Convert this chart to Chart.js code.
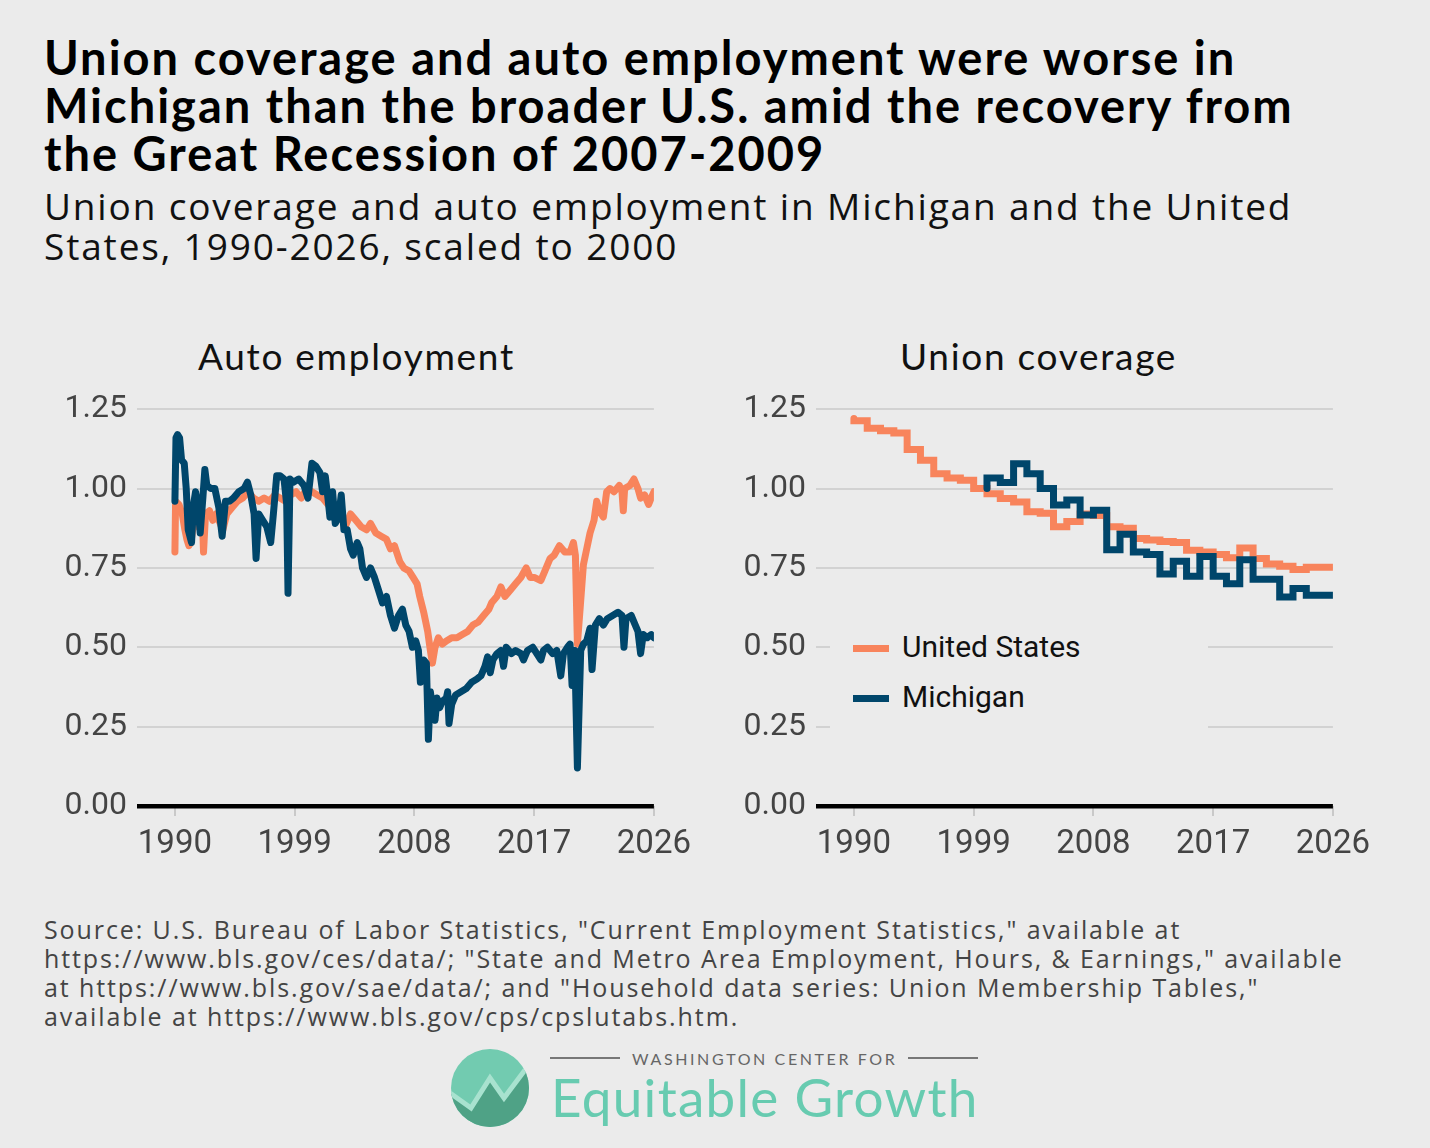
<!DOCTYPE html>
<html>
<head>
<meta charset="utf-8">
<script src="https://cdn.jsdelivr.net/npm/chart.js@4.4.1/dist/chart.umd.min.js"></script>
<style>
  html, body { margin: 0; padding: 0; }
  body { width: 1430px; height: 1148px; background: #ebebeb; position: relative; overflow: hidden; font-family: Roboto, sans-serif; }
  .abs { position: absolute; white-space: nowrap; }
  #title { left: 44px; top: 33px; font-family: Lato, sans-serif; font-weight: 700; font-size: 47px; letter-spacing: 2.0px; line-height: 48px; color: #000; }
  #subtitle { left: 44px; top: 186px; font-family: "Open Sans", sans-serif; font-size: 37px; letter-spacing: 1.85px; line-height: 40px; color: #111; }
  .panelTitle { top: 333px; font-family: Lato, sans-serif; font-size: 37px; letter-spacing: 1.7px; color: #111; }
  canvas { position: absolute; }
  #legend { left: 830px; top: 615px; width: 378px; height: 115px; background: #ebebeb; }
  .legItem { position: absolute; left: 23px; height: 30px; font-family: Roboto, sans-serif; font-size: 30px; color: #111; }
  .legItem span.sw { position: absolute; left: 0; top: 12px; width: 36px; height: 7px; }
  .legItem span.lb { position: absolute; left: 49px; top: -4px; white-space: nowrap; }
  #source { left: 44px; top: 915px; font-family: "Open Sans", sans-serif; font-size: 25px; letter-spacing: 1.9px; line-height: 29px; color: #444; }
</style>
</head>
<body>
<div id="title" class="abs">Union coverage and auto employment were worse in<br>Michigan than the broader U.S. amid the recovery from<br>the Great Recession of 2007-2009</div>
<div id="subtitle" class="abs">Union coverage and auto employment in Michigan and the United<br>States, 1990-2026, scaled to 2000</div>

<div class="abs panelTitle" style="left:198px">Auto employment</div>
<div class="abs panelTitle" style="left:900px">Union coverage</div>

<canvas id="autoChart" width="660" height="486" style="left:40px;top:380px"></canvas>
<canvas id="unionChart" width="660" height="486" style="left:719px;top:380px"></canvas>

<div id="legend" class="abs">
  <div class="legItem" style="top:18px"><span class="sw" style="background:#f8845c"></span><span class="lb">United States</span></div>
  <div class="legItem" style="top:68px"><span class="sw" style="background:#00466b"></span><span class="lb">Michigan</span></div>
</div>

<div id="source" class="abs">Source: U.S. Bureau of Labor Statistics, "Current Employment Statistics," available at<br>https://www.bls.gov/ces/data/; "State and Metro Area Employment, Hours, &amp; Earnings," available<br>at https://www.bls.gov/sae/data/; and "Household data series: Union Membership Tables,"<br>available at https://www.bls.gov/cps/cpslutabs.htm.</div>

<svg class="abs" style="left:440px;top:1040px" width="560" height="100" viewBox="440 1040 560 100">
  <defs><clipPath id="logoClip"><circle cx="490" cy="1088" r="39"/></clipPath></defs>
  <g clip-path="url(#logoClip)">
    <rect x="440" y="1040" width="100" height="100" fill="#72cbb0"/>
    <polygon points="450,1093 471,1108 490,1078 504,1098 530,1066 530,1130 450,1130" fill="#4fa286"/>
    <polyline points="450,1093 471,1108 490,1078 504,1098 528,1066" fill="none" stroke="#a8e2cf" stroke-width="5"/>
  </g>
  <line x1="550" y1="1058" x2="620" y2="1058" stroke="#777" stroke-width="2"/>
  <line x1="908" y1="1058" x2="978" y2="1058" stroke="#777" stroke-width="2"/>
  <text x="632" y="1065" font-family="Lato, sans-serif" font-size="16" letter-spacing="2.6" fill="#666">WASHINGTON CENTER FOR</text>
  <text x="551" y="1117" font-family="Lato, sans-serif" font-size="53" letter-spacing="1.3" fill="#67cbb0">Equitable Growth</text>
</svg>

<script>
// Auto employment, scaled to 2000
const autoUsYears = [1990.00,1990.05,1990.30,1990.55,1990.75,1990.90,1991.05,1991.20,1991.40,1991.60,1991.85,1992.05,1992.15,1992.30,1992.60,1992.85,1993.10,1993.40,1993.60,1993.90,1994.30,1994.70,1995.10,1995.50,1995.90,1996.30,1996.70,1997.10,1997.50,1997.90,1998.30,1998.70,1999.10,1999.50,1999.90,2000.30,2000.70,2001.10,2001.50,2001.90,2002.30,2002.80,2003.20,2003.60,2004.00,2004.40,2004.70,2005.10,2005.50,2005.90,2006.20,2006.50,2006.90,2007.20,2007.60,2007.90,2008.20,2008.40,2008.70,2009.00,2009.20,2009.35,2009.55,2009.80,2010.10,2010.40,2010.80,2011.20,2011.60,2012.00,2012.40,2012.80,2013.20,2013.60,2013.80,2014.20,2014.50,2014.80,2015.20,2015.60,2016.00,2016.40,2016.70,2017.00,2017.50,2017.80,2018.20,2018.50,2018.90,2019.30,2019.70,2019.95,2020.10,2020.25,2020.45,2020.70,2020.95,2021.20,2021.50,2021.70,2021.90,2022.20,2022.45,2022.70,2023.00,2023.40,2023.60,2023.70,2023.80,2024.20,2024.50,2024.80,2025.00,2025.30,2025.60,2025.90,2026.00];
const autoUsValues = [0.80,0.96,0.95,0.92,0.87,0.84,0.82,0.83,0.89,0.88,0.91,0.92,0.80,0.92,0.93,0.90,0.92,0.89,0.87,0.92,0.94,0.96,0.97,0.99,0.97,0.96,0.97,0.96,0.98,0.97,0.96,0.98,0.99,0.97,1.00,0.99,0.98,0.97,0.95,0.94,0.93,0.88,0.92,0.90,0.88,0.87,0.89,0.86,0.85,0.84,0.81,0.82,0.77,0.75,0.74,0.72,0.70,0.66,0.61,0.55,0.49,0.45,0.50,0.53,0.51,0.52,0.53,0.53,0.54,0.55,0.57,0.58,0.60,0.62,0.64,0.66,0.69,0.66,0.68,0.70,0.72,0.75,0.72,0.72,0.71,0.74,0.78,0.79,0.82,0.80,0.80,0.83,0.79,0.51,0.62,0.76,0.81,0.86,0.90,0.96,0.93,0.91,0.99,1.00,0.99,1.01,0.99,0.93,1.00,1.01,1.03,1.00,0.97,0.98,0.95,0.98,0.99];

const autoMiYears = [1990.00,1990.08,1990.20,1990.35,1990.50,1990.70,1990.85,1991.00,1991.25,1991.40,1991.55,1991.75,1991.90,1992.10,1992.25,1992.40,1992.70,1993.00,1993.30,1993.55,1993.80,1994.10,1994.40,1994.80,1995.20,1995.45,1995.70,1995.95,1996.10,1996.30,1996.60,1996.90,1997.20,1997.40,1997.65,1997.90,1998.20,1998.40,1998.50,1998.65,1998.90,1999.30,1999.70,2000.00,2000.30,2000.60,2000.90,2001.10,2001.30,2001.50,2001.65,2001.85,2002.05,2002.30,2002.50,2002.70,2002.95,2003.20,2003.40,2003.70,2003.90,2004.10,2004.40,2004.70,2005.00,2005.30,2005.60,2005.90,2006.20,2006.50,2006.80,2007.10,2007.35,2007.60,2007.85,2008.10,2008.30,2008.45,2008.70,2008.90,2009.05,2009.20,2009.40,2009.55,2009.70,2009.90,2010.10,2010.40,2010.50,2010.60,2010.80,2011.10,2011.50,2011.90,2012.30,2012.70,2013.00,2013.30,2013.50,2013.70,2013.90,2014.20,2014.50,2014.70,2014.90,2015.30,2015.60,2016.00,2016.20,2016.50,2016.90,2017.20,2017.50,2017.70,2018.00,2018.40,2018.70,2019.00,2019.20,2019.50,2019.70,2019.85,2020.05,2020.25,2020.50,2020.70,2020.95,2021.20,2021.35,2021.60,2021.90,2022.20,2022.50,2022.90,2023.30,2023.60,2023.75,2023.90,2024.30,2024.60,2024.80,2025.00,2025.20,2025.50,2025.80,2026.00];
const autoMiValues = [0.96,1.16,1.17,1.16,1.09,1.08,1.00,0.87,0.83,0.95,0.99,0.94,0.86,0.97,1.06,1.01,1.00,1.00,0.94,0.85,0.96,0.96,0.97,0.99,1.00,1.02,0.98,0.92,0.78,0.92,0.90,0.88,0.83,0.92,1.04,1.04,1.03,0.95,0.67,1.03,1.02,1.03,1.01,0.97,1.08,1.07,1.05,0.99,1.04,0.97,0.91,0.99,0.89,0.91,0.98,0.87,0.87,0.81,0.79,0.83,0.81,0.75,0.72,0.75,0.72,0.68,0.64,0.66,0.60,0.56,0.60,0.62,0.57,0.55,0.50,0.52,0.49,0.39,0.46,0.45,0.21,0.36,0.30,0.27,0.34,0.31,0.33,0.34,0.36,0.26,0.32,0.35,0.36,0.37,0.39,0.40,0.41,0.44,0.47,0.42,0.46,0.48,0.49,0.44,0.50,0.48,0.49,0.48,0.46,0.49,0.50,0.48,0.46,0.49,0.50,0.48,0.49,0.41,0.48,0.50,0.51,0.38,0.49,0.12,0.49,0.51,0.52,0.56,0.43,0.57,0.59,0.57,0.59,0.60,0.61,0.60,0.50,0.59,0.60,0.57,0.55,0.48,0.54,0.53,0.54,0.53];

// Union coverage, scaled to 2000, annual
const unionYears = [1990,1991,1992,1993,1994,1995,1996,1997,1998,1999,2000,2001,2002,2003,2004,2005,2006,2007,2008,2009,2010,2011,2012,2013,2014,2015,2016,2017,2018,2019,2020,2021,2022,2023,2024,2025,2026];
const unionUs = [1.221,1.214,1.190,1.182,1.175,1.123,1.089,1.047,1.033,1.026,1.000,0.984,0.969,0.958,0.927,0.922,0.880,0.896,0.920,0.915,0.880,0.875,0.843,0.838,0.833,0.830,0.806,0.800,0.792,0.782,0.813,0.780,0.762,0.755,0.745,0.752,0.752];
const unionMi = [null,null,null,null,null,null,null,null,null,null,1.000,1.033,1.019,1.078,1.047,1.000,0.948,0.964,0.917,0.932,0.807,0.856,0.800,0.792,0.731,0.771,0.724,0.786,0.724,0.700,0.776,0.714,0.714,0.658,0.685,0.664,0.664];

const xTicks = [1990, 1999, 2008, 2017, 2026];
const yTicks = [0, 0.25, 0.5, 0.75, 1.0, 1.25];

const usColor = '#f8845c';
const miColor = '#00466b';

function pts(xs, ys) {
  return xs.map((x, i) => ({x: x, y: ys[i]}));
}

function makeOptions() {
  return {
    responsive: false,
    animation: false,
    devicePixelRatio: 1,
    layout: {padding: {top: 27, right: 45, left: 0, bottom: 0}},
    plugins: {legend: {display: false}, tooltip: {enabled: false}, title: {display: false}},
    elements: {point: {radius: 0}, line: {borderWidth: 7, tension: 0, borderJoinStyle: 'round', borderCapStyle: 'round'}},
    scales: {
      x: {
        type: 'linear',
        min: 1987.15,
        max: 2026,
        afterBuildTicks: s => { s.ticks = xTicks.map(v => ({value: v})); },
        afterFit: s => { s.height = 60; },
        border: {display: false},
        grid: {drawOnChartArea: false, drawTicks: true, tickLength: 10, color: '#c9c9c9', lineWidth: 2},
        ticks: {padding: 9, color: '#444', font: {family: 'Roboto', size: 33}, maxRotation: 0, callback: v => String(v)}
      },
      y: {
        min: 0,
        max: 1.25,
        afterBuildTicks: s => { s.ticks = yTicks.map(v => ({value: v})); },
        afterFit: s => { s.width = 97; },
        border: {display: false},
        grid: {
          drawTicks: false,
          color: c => c.tick && c.tick.value === 0 ? '#000' : '#d2d2d2',
          lineWidth: c => c.tick && c.tick.value === 0 ? 4.5 : 2
        },
        ticks: {padding: 10, color: '#444', font: {family: 'Roboto', size: 32}, callback: v => Number(v).toFixed(2)}
      }
    }
  };
}

new Chart(document.getElementById('autoChart'), {
  type: 'line',
  data: {
    datasets: [
      {label: 'Michigan', data: pts(autoMiYears, autoMiValues), borderColor: miColor},
      {label: 'United States', data: pts(autoUsYears, autoUsValues), borderColor: usColor}
    ]
  },
  options: makeOptions()
});

new Chart(document.getElementById('unionChart'), {
  type: 'line',
  data: {
    datasets: [
      {label: 'Michigan', data: pts(unionYears, unionMi), borderColor: miColor, stepped: 'after', borderJoinStyle: 'miter'},
      {label: 'United States', data: pts(unionYears, unionUs), borderColor: usColor, stepped: 'after', borderJoinStyle: 'miter'}
    ]
  },
  options: makeOptions()
});
</script>
</body>
</html>
